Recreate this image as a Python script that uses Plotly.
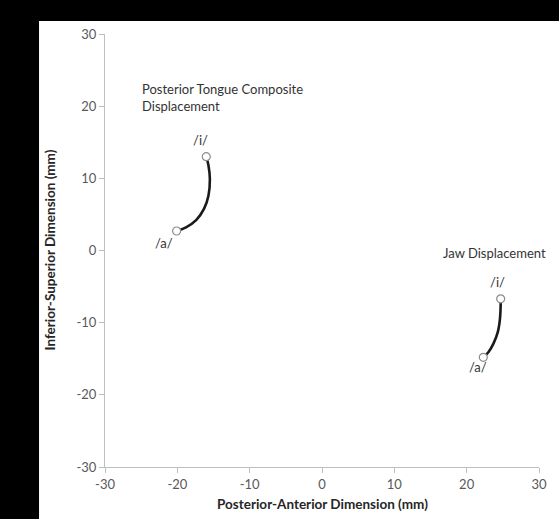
import plotly.graph_objects as go

# Data (mm)
tongue_x = [-20.1, -18.8, -17.4, -16.3, -15.7, -15.5, -15.7, -16.0]
tongue_y = [2.7, 3.2, 4.2, 5.8, 7.6, 9.9, 11.8, 13.0]
jaw_x = [22.3, 23.0, 23.7, 24.3, 24.6, 24.7, 24.7]
jaw_y = [-14.8, -14.1, -12.9, -11.3, -9.5, -7.6, -6.7]
x_ticks = [-30, -20, -10, 0, 10, 20, 30]
y_ticks = [-30, -20, -10, 0, 10, 20, 30]
x_tick_labels = ["-30", "-20", "-10", "0", "10", "20", "30"]
y_tick_labels = ["-30", "-20", "-10", "0", "10", "20", "30"]

FONT = "Lato, 'Open Sans', sans-serif"
TXT = "#333333"

fig = go.Figure()
for xs, ys in [(tongue_x, tongue_y), (jaw_x, jaw_y)]:
    fig.add_trace(go.Scatter(x=xs, y=ys, mode="lines",
                             line=dict(color="#1a1a1a", width=2.6, shape="spline"),
                             hoverinfo="skip", showlegend=False))
    fig.add_trace(go.Scatter(x=[xs[0], xs[-1]], y=[ys[0], ys[-1]], mode="markers",
                             marker=dict(symbol="circle", size=8, color="white",
                                         line=dict(color="#8c8c8c", width=1.2)),
                             showlegend=False))

fig.add_shape(type="rect", xref="paper", yref="paper",
              x0=-0.152, x1=1.05, y0=-0.13, y1=1.030,
              fillcolor="white", line=dict(width=0), layer="below")

ann = [
    dict(x=-25.2, y=21.2, text="Posterior Tongue Composite<br>Displacement", xanchor="left", align="left"),
    dict(x=tongue_x[-1] - 0.8, y=tongue_y[-1] + 2.3, text="/i/"),
    dict(x=tongue_x[0] - 1.8, y=tongue_y[0] - 1.7, text="/a/"),
    dict(x=23.8, y=-0.3, text="Jaw Displacement"),
    dict(x=24.2, y=-4.3, text="/i/"),
    dict(x=21.6, y=-16.2, text="/a/"),
]
annotations = []
for a in ann:
    d = dict(xref="x", yref="y", showarrow=False,
             font=dict(family=FONT, size=13, color=TXT))
    d.update(a)
    annotations.append(d)

annotations.append(dict(xref="paper", yref="paper", x=0.5, y=-0.085, yanchor="middle",
                        text="<b>Posterior-Anterior Dimension (mm)</b>", showarrow=False,
                        font=dict(family=FONT, size=13.5, color="#262626")))
annotations.append(dict(xref="paper", yref="paper", x=-0.129, y=0.5, xanchor="center",
                        text="<b>Inferior-Superior Dimension (mm)</b>", showarrow=False, textangle=-90,
                        font=dict(family=FONT, size=13.5, color="#262626")))

axis_common = dict(showgrid=False, zeroline=False, showline=True, linecolor="#bfbfbf",
                   linewidth=1, ticks="outside", ticklen=5, tickcolor="#bfbfbf",
                   tickfont=dict(family=FONT, size=13, color="#595959"))

fig.update_layout(
    width=559, height=519,
    margin=dict(l=105, r=16, t=34, b=52),
    paper_bgcolor="black", plot_bgcolor="white",
    xaxis=dict(range=[-30, 30], tickvals=x_ticks, ticktext=x_tick_labels, **axis_common),
    yaxis=dict(range=[-30, 30], tickvals=y_ticks, ticktext=y_tick_labels, **axis_common),
    annotations=annotations,
)

fig.write_html("out.html", config={"displayModeBar": False},
               post_script="document.body.style.margin='0';document.body.style.background='white';")
